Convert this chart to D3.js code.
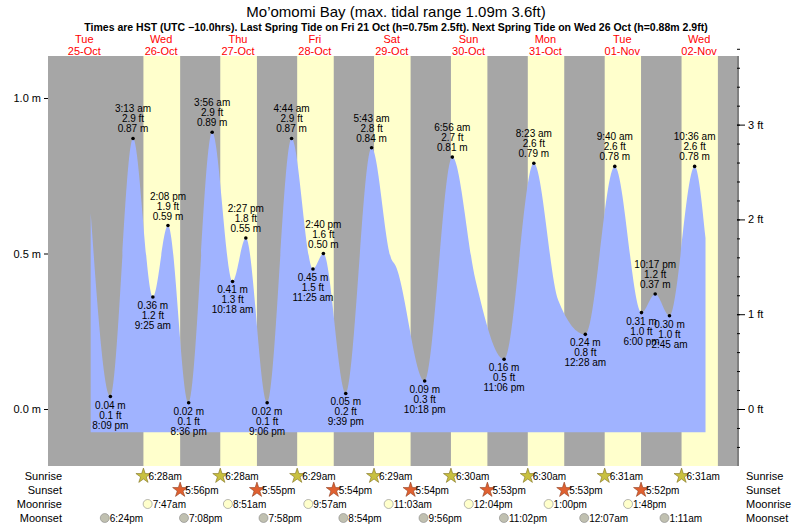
<!DOCTYPE html>
<html><head><meta charset="utf-8">
<script src="https://cdn.jsdelivr.net/npm/d3@7"></script>
<style>body{margin:0;background:#fff}text{font-family:"Liberation Sans",Arial,sans-serif}</style>
</head><body><svg id="c" width="793" height="525"></svg>
<script>
// tide extremes: [time, metres, labelled?]
var tideTimes = ["2022-10-25T14:00","2022-10-25T20:09","2022-10-26T03:13","2022-10-26T09:25","2022-10-26T14:08","2022-10-26T20:36",
  "2022-10-27T03:56","2022-10-27T10:18","2022-10-27T14:27","2022-10-27T21:06","2022-10-28T04:44","2022-10-28T11:25","2022-10-28T14:40",
  "2022-10-28T21:39","2022-10-29T05:43","2022-10-29T12:00","2022-10-29T13:00","2022-10-29T22:18","2022-10-30T06:56","2022-10-30T14:10",
  "2022-10-30T23:06","2022-10-31T08:23","2022-10-31T16:00","2022-11-01T00:28","2022-11-01T09:40","2022-11-01T18:00","2022-11-01T22:17",
  "2022-11-02T02:45","2022-11-02T10:36","2022-11-02T14:00"];
var tideHeights = [0.63,0.04,0.87,0.36,0.59,0.02,0.89,0.41,0.55,0.02,0.87,0.45,0.50,0.05,0.84,0.48,0.465,0.09,0.81,0.415,0.16,0.79,0.35,0.24,0.78,0.31,0.37,0.30,0.78,0.55];
var tideLabels = ["","8:09 pm","3:13 am","9:25 am","2:08 pm","8:36 pm","3:56 am","10:18 am","2:27 pm","9:06 pm","4:44 am","11:25 am","2:40 pm",
  "9:39 pm","5:43 am","","","10:18 pm","6:56 am","","11:06 pm","8:23 am","","12:28 am","9:40 am","6:00 pm","10:17 pm","2:45 am","10:36 am",""];
var tideHigh = [0,0,1,0,1,0,1,0,1,0,1,0,1,0,1,0,0,0,1,0,0,1,0,0,1,0,1,0,1,0];

var dayNames = ["Tue","Wed","Thu","Fri","Sat","Sun","Mon","Tue","Wed"];
var dayDates = ["25-Oct","26-Oct","27-Oct","28-Oct","29-Oct","30-Oct","31-Oct","01-Nov","02-Nov"];
var sunrise = ["6:28am","6:28am","6:29am","6:29am","6:30am","6:30am","6:31am","6:31am"];
var sunset = ["5:56pm","5:55pm","5:54pm","5:54pm","5:53pm","5:53pm","5:52pm","5:52pm"];
var moonrise = ["7:47am","8:51am","9:57am","11:03am","12:04pm","1:00pm","1:48pm"];
var moonriseDay = [26,27,28,29,30,31,32];
var moonset = ["6:24pm","7:08pm","7:58pm","8:54pm","9:56pm","11:02pm","12:07am","1:11am"];
var moonsetDay = [25,26,27,28,29,30,32,33];

var parse = d3.timeParse("%Y-%m-%dT%H:%M");
function dayTime(day, s){ // day of October (32 = Nov 1), "6:28am"
  var m = s.match(/(\d+):(\d+)(am|pm)/), h = +m[1] % 12 + (m[3]=="pm"?12:0);
  return new Date(2022, 9, day, h, +m[2]);
}
var svg = d3.select("#c");
var L = 48, R = 737, T = 56, B = 466;
var x = d3.scaleTime().domain([new Date(2022,9,25,0,40), new Date(2022,10,2,23,50)]).range([L, R]);
var y = d3.scaleLinear().domain([0,1]).range([409,98]);
var yft = d3.scaleLinear().domain([0,1]).range([409, 409-311*0.3048]);

svg.append("rect").attr("x",L).attr("y",T).attr("width",R-L).attr("height",B-T).attr("fill","#a6a6a6");
for (var i = 0; i < 8; i++) {
  var a = dayTime(26+i, sunrise[i]), b = dayTime(26+i, sunset[i]);
  svg.append("rect").attr("x",x(a)).attr("y",T).attr("width",x(b)-x(a)).attr("height",B-T).attr("fill","#ffffcc");
}
var pts = tideTimes.map(function(t,i){ return {t:parse(t), h:tideHeights[i], lab:tideLabels[i], hi:tideHigh[i]}; });
svg.append("path").datum(pts).attr("fill","#a0b3ff")
  .attr("d", d3.area().x(function(d){return x(d.t);}).y0(y(-0.075)).y1(function(d){return y(d.h);}).curve(d3.curveMonotoneX));

pts.filter(function(d){return d.lab;}).forEach(function(d){
  var px = x(d.t), py = y(d.h), ft = (d.h/0.3048).toFixed(1) + " ft", m = d.h.toFixed(2) + " m";
  svg.append("circle").attr("cx",px).attr("cy",py).attr("r",1.8).attr("fill","#000");
  var lines = d.hi ? [d.lab, ft, m] : [m, ft, d.lab];
  lines.forEach(function(s,k){
    svg.append("text").attr("x",px).attr("text-anchor","middle").attr("font-size",10)
      .attr("y", d.hi ? py-26+k*10 : py+12+k*10).text(s);
  });
});

// axes
var yl = svg.append("g").attr("transform","translate("+L+",0)")
  .call(d3.axisLeft(y).tickValues([0,0.5,1]).tickFormat(function(d){return d.toFixed(1)+" m";}).tickSize(4));
var yr = svg.append("g").attr("transform","translate("+R+",0)")
  .call(d3.axisRight(yft).tickValues(d3.range(-0.4,3.81,0.2)).tickSize(3).tickFormat(""));
svg.append("g").attr("transform","translate("+R+",0)")
  .call(d3.axisRight(yft).tickValues([0,1,2,3]).tickSize(8).tickFormat(function(d){return d+" ft";}));
svg.selectAll(".domain").remove();
svg.selectAll(".tick text").attr("font-size",11).attr("font-family","Liberation Sans, Arial");
svg.append("line").attr("x1",R+1).attr("x2",R+1).attr("y1",T).attr("y2",B).attr("stroke","#000");

svg.append("text").attr("x",396).attr("y",17).attr("text-anchor","middle").attr("font-size",15).text("Mo’omomi Bay (max. tidal range 1.09m 3.6ft)");
svg.append("text").attr("x",396).attr("y",31).attr("text-anchor","middle").attr("font-size",10.5).attr("font-weight","bold")
  .text("Times are HST (UTC −10.0hrs). Last Spring Tide on Fri 21 Oct (h=0.75m 2.5ft). Next Spring Tide on Wed 26 Oct (h=0.88m 2.9ft)");
dayNames.forEach(function(n,i){
  var cx = x(new Date(2022,9,25+i,12,0));
  svg.append("text").attr("x",cx).attr("y",43).attr("text-anchor","middle").attr("font-size",11).attr("fill","#ff0000").text(n);
  svg.append("text").attr("x",cx).attr("y",55).attr("text-anchor","middle").attr("font-size",11).attr("fill","#ff0000").text(dayDates[i]);
});

// sun & moon rows
var rows = ["Sunrise","Sunset","Moonrise","Moonset"], rowY = [476,490,504,518];
rows.forEach(function(r,i){
  svg.append("text").attr("x",62).attr("y",rowY[i]+4).attr("text-anchor","end").attr("font-size",11).text(r);
  svg.append("text").attr("x",746).attr("y",rowY[i]+4).attr("font-size",11).text(r);
});
var star = d3.symbol().type(d3.symbolStar).size(70);
function event(t, s, row, kind){
  var px = x(t), py = rowY[row];
  if (kind < 2) svg.append("path").attr("d",star).attr("transform","translate("+px+","+py+")")
    .attr("fill", kind==0 ? "#c8c040" : "#e06030").attr("stroke", kind==0 ? "#807020" : "#904020").attr("stroke-width",0.6);
  else svg.append("circle").attr("cx",px).attr("cy",py).attr("r",4.5)
    .attr("fill", kind==2 ? "#ffffcc" : "#c0c0b0").attr("stroke","#888").attr("stroke-width",0.6);
  svg.append("text").attr("x",px+5).attr("y",py+4).attr("font-size",10).text(s);
}
sunrise.forEach(function(s,i){ event(dayTime(26+i,s), s, 0, 0); });
sunset.slice(0,7).forEach(function(s,i){ event(dayTime(26+i,s), s, 1, 1); });
moonrise.forEach(function(s,i){ event(dayTime(moonriseDay[i],s), s, 2, 2); });
moonset.forEach(function(s,i){ event(dayTime(moonsetDay[i],s), s, 3, 3); });
</script></body></html>
